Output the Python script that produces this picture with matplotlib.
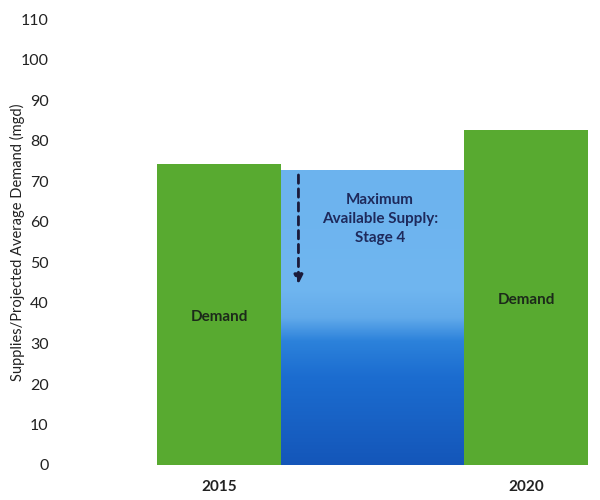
import matplotlib
matplotlib.use("Agg")
import matplotlib.pyplot as plt
import numpy as np
from matplotlib.colors import LinearSegmentedColormap

# Data
years = ["2015", "2020"]
demand = [74.3, 82.6]
supply_label = "Maximum\nAvailable Supply:\nStage 4"
max_supply = 72.8
arrow_end = 44.0
ylabel = "Supplies/Projected Average Demand (mgd)"
yticks = list(range(0, 111, 10))

plt.rcParams['font.family'] = ['Lato', 'DejaVu Sans']

fig = plt.figure(figsize=(6, 5), dpi=100)
ax = fig.add_axes([0.25, 0.07, 0.742, 0.891])

green = "#58aa30"
x_dem = [0, 2]
x_sup = 1
w_dem = 0.81
w_sup = 1.19

ax.bar(x_dem, demand, width=w_dem, color=green, zorder=2)

# gradient blue bar
bar = ax.bar([x_sup], [max_supply], width=w_sup, color="none", zorder=2)[0]
cmap = LinearSegmentedColormap.from_list(
    "water",
    [(0.0, "#1456b9"), (0.3, "#1c6dd0"), (0.42, "#2c82db"),
     (0.5, "#62aaea"), (0.6, "#70b6f0"), (1.0, "#6cb3ee")])
grad = np.linspace(0, 1, 256).reshape(-1, 1)
im = ax.imshow(grad, cmap=cmap, origin="lower", aspect="auto",
               extent=[x_sup - w_sup / 2, x_sup + w_sup / 2, 0, max_supply],
               zorder=1.5)
im.set_clip_path(bar)

# annotations
ax.text(0, 36.5, "Demand", ha="center", va="center", fontsize=11,
        fontweight="bold", color="#1c2a1a", zorder=3)
ax.text(2, 40.7, "Demand", ha="center", va="center", fontsize=11,
        fontweight="bold", color="#1c2a1a", zorder=3)
ax.text(1.046, 60.7, supply_label, ha="center", va="center", fontsize=11,
        fontweight="bold", color="#1e2a5c", linespacing=1.45, zorder=3)
ax.annotate("", xy=(0.517, arrow_end), xytext=(0.517, max_supply - 0.5),
            arrowprops=dict(arrowstyle="-|>", linestyle=(0, (3, 2)),
                            color="#1a1a3a", lw=2.0, mutation_scale=13),
            zorder=4)

ax.set_xlim(-0.45, 2.45)
ax.set_ylim(0, 110)
ax.set_yticks(yticks)
ax.set_xticks(x_dem)
ax.set_xticklabels(years, fontsize=11, fontweight="bold", color="#222222")
ax.tick_params(axis="y", length=0, pad=73, labelsize=11.5, labelcolor="#222222")
ax.tick_params(axis="x", length=0, pad=11)
for s in ax.spines.values():
    s.set_visible(False)
ax.set_ylabel(ylabel, fontsize=10.5, color="#222222")
ax.yaxis.set_label_coords(-0.28, 0.5)

fig.savefig("out.png", dpi=100)
